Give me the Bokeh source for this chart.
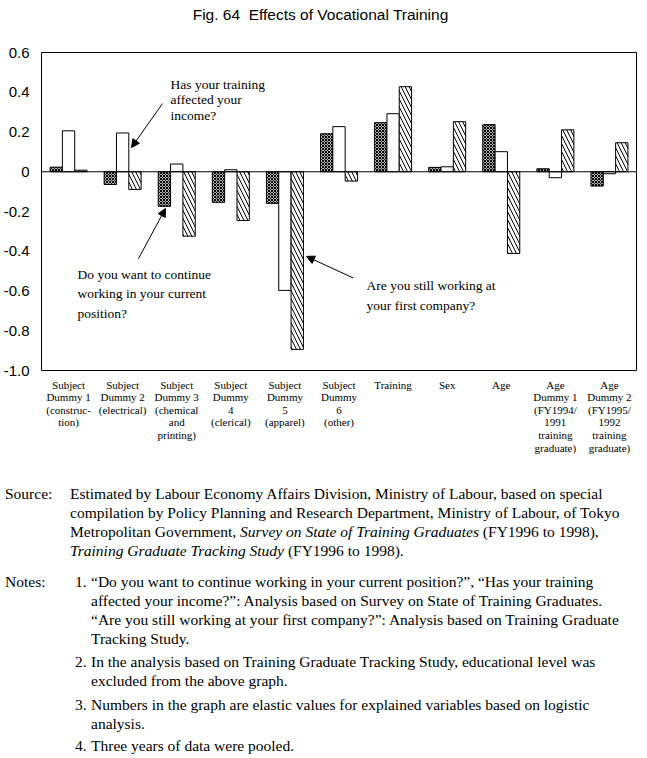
import numpy as np
from bokeh.plotting import figure
from bokeh.models import (ColumnDataSource, FixedTicker, Span, Label, Arrow,
                          NormalHead, Div)
from bokeh.layouts import column
from bokeh.embed import file_html
from bokeh.resources import INLINE

# ---------------- data ----------------
categories = [
    "Subject\nDummy 1\n(construc-\ntion)",
    "Subject\nDummy 2\n(electrical)",
    "Subject\nDummy 3\n(chemical\nand\nprinting)",
    "Subject\nDummy\n4\n(clerical)",
    "Subject\nDummy\n5\n(apparel)",
    "Subject\nDummy\n6\n(other)",
    "Training",
    "Sex",
    "Age",
    "Age\nDummy 1\n(FY1994/\n1991\ntraining\ngraduate)",
    "Age\nDummy 2\n(FY1995/\n1992\ntraining\ngraduate)",
]
# "Do you want to continue working in your current position?"
continue_working = [0.023, -0.064, -0.174, -0.154, -0.159, 0.191, 0.247, 0.022, 0.237, 0.015, -0.072]
# "Has your training affected your income?"
income_effect = [0.206, 0.195, 0.039, 0.010, -0.597, 0.227, 0.292, 0.025, 0.101, -0.030, -0.010]
# "Are you still working at your first company?"
first_company = [0.008, -0.089, -0.324, -0.245, -0.894, -0.047, 0.428, 0.252, -0.411, 0.211, 0.146]

y_ticks = [0.6, 0.4, 0.2, 0.0, -0.2, -0.4, -0.6, -0.8, -1.0]
y_tick_labels = ["0.6", "0.4", "0.2", "0", "-0.2", "-0.4", "-0.6", "-0.8", "-1.0"]

title_html = "Fig. 64&nbsp; Effects of Vocational Training"

SERIF = "Liberation Serif"
SANS = "Liberation Sans"

# ---------------- title ----------------
title_div = Div(text='<div style="font-family:\'Liberation Sans\'; font-size:15.5px; '
                     'line-height:14px; text-align:center; width:616px; padding-left:15px; '
                     'padding-top:3px; color:black; white-space:nowrap;">' + title_html + '</div>',
                width=631, height=32)

# ---------------- figure ----------------
p = figure(frame_width=595, frame_height=318, output_backend="svg", toolbar_location=None,
           x_range=(-0.5, 10.5), y_range=(-1.0, 0.6),
           min_border_left=35, min_border_right=1, min_border_top=10,
           min_border_bottom=109)
p.xgrid.visible = False
p.ygrid.visible = False
p.outline_line_color = "black"
p.outline_line_width = 1
p.background_fill_color = "white"
p.border_fill_color = "white"

idx = np.arange(len(categories))
bw = 0.228
series = [
    (continue_working, -bw, dict(fill_color="#b4b4b4", hatch_pattern="diagonal_cross",
                                  hatch_scale=3, hatch_color="black", hatch_weight=1)),
    (income_effect, 0.0, dict(fill_color="white")),
    (first_company, bw, dict(fill_color="white", hatch_pattern="left_diagonal_line",
                              hatch_scale=8, hatch_color="black", hatch_weight=1)),
]
for vals, off, style in series:
    src = ColumnDataSource(dict(x=idx + off, top=vals))
    p.vbar(x="x", top="top", bottom=0, width=bw, source=src,
           line_color="black", line_width=1, **style)

p.add_layout(Span(location=0, dimension="width", line_color="black", line_width=1))

# axes
p.xaxis.ticker = FixedTicker(ticks=list(idx))
p.xaxis.major_label_overrides = {int(i): c for i, c in zip(idx, categories)}
p.xaxis.major_label_text_font = SERIF
p.xaxis.major_label_text_font_size = "11px"
p.xaxis.major_label_text_line_height = 1.05
p.xaxis.major_label_text_color = "black"
p.xaxis.major_label_standoff = 2
p.xaxis.axis_line_color = None
p.xaxis.major_tick_line_color = None
p.xaxis.minor_tick_line_color = None

p.yaxis.ticker = FixedTicker(ticks=y_ticks)
p.yaxis.major_label_overrides = {t: l for t, l in zip(y_ticks, y_tick_labels)}
p.yaxis.major_label_text_font = SANS
p.yaxis.major_label_text_font_size = "15px"
p.yaxis.major_label_text_color = "black"
p.yaxis.major_label_standoff = 6
p.yaxis.axis_line_color = None
p.yaxis.major_tick_line_color = None
p.yaxis.minor_tick_line_color = None

# annotations
def add_note(x, y, text, lh):
    p.add_layout(Label(x=x, y=y, text=text, text_font=SERIF, text_font_size="13.5px",
                       text_baseline="top", text_align="left", text_color="black",
                       text_line_height=lh))

add_note(1.885, 0.479, "Has your training\naffected your\nincome?", 1.05)
add_note(0.166, -0.477, "Do you want to continue\nworking in your current\nposition?", 1.3)
add_note(5.509, -0.537, "Are you still working at\nyour first company?", 1.3)

for xs, ys, xe, ye in [(1.737, 0.343, 1.164, 0.122),
                       (1.293, -0.437, 1.792, -0.185),
                       (5.268, -0.535, 4.399, -0.426)]:
    p.add_layout(Arrow(end=NormalHead(size=8, fill_color="black", line_color="black"),
                       x_start=xs, y_start=ys, x_end=xe, y_end=ye,
                       line_color="black", line_width=1))

# ---------------- source / notes ----------------
src_lines = [
    "Estimated by Labour Economy Affairs Division, Ministry of Labour, based on special",
    "compilation by Policy Planning and Research Department, Ministry of Labour, of Tokyo",
    "Metropolitan Government, <i>Survey on State of Training Graduates</i> (FY1996 to 1998),",
    "<i>Training Graduate Tracking Study</i> (FY1996 to 1998).",
]
notes = [
    ["\u201cDo you want to continue working in your current position?\u201d, \u201cHas your training",
     "affected your income?\u201d: Analysis based on Survey on State of Training Graduates.",
     "\u201cAre you still working at your first company?\u201d: Analysis based on Training Graduate",
     "Tracking Study."],
    ["In the analysis based on Training Graduate Tracking Study, educational level was",
     "excluded from the above graph."],
    ["Numbers in the graph are elastic values for explained variables based on logistic",
     "analysis."],
    ["Three years of data were pooled."],
]

html = ['<div style="font-family:\'Liberation Serif\'; font-size:15.5px; line-height:19px; '
        'color:black; white-space:nowrap; padding-top:0px;">']
html.append('<div style="position:relative; padding-left:65px;">'
            '<span style="position:absolute; left:0; top:0;">Source:</span>'
            + "<br>".join(src_lines) + '</div>')
html.append('<div style="position:relative; margin-top:12px;">'
            '<span style="position:absolute; left:0; top:0;">Notes:</span>')
for i, lines in enumerate(notes):
    mt = 0 if i == 0 else [0, 4, 5, 3][i]
    html.append('<div style="position:relative; padding-left:86px; margin-top:%dpx;">'
                '<span style="position:absolute; left:70px; top:0;">%d.</span>%s</div>'
                % (mt, i + 1, "<br>".join(lines)))
html.append('</div></div>')

div = Div(text="".join(html), width=631, height=273, styles={"overflow": "hidden"})

layout = column(title_div, p, div, spacing=0)
open("out.html", "w").write(file_html(layout, INLINE))
